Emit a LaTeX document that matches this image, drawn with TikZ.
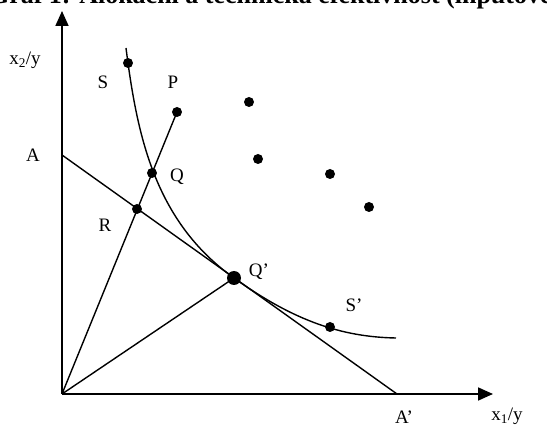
\documentclass[tikz,border=0pt]{standalone}
\usepackage{fontspec}
\setmainfont{Liberation Serif}
\usetikzlibrary{arrows.meta}

\tikzset{
    dot/.style={circle, fill, inner sep=0pt, minimum size=10pt},
    bigdot/.style={dot, minimum size=14pt},
    lbl/.style={font=\fontsize{19}{22}\selectfont},
    axis/.style={line width=1.8pt, -{Triangle[length=15pt,width=13pt]}},
}

\begin{document}
\begin{tikzpicture}[x=1pt, y=1pt, line width=1.4pt]
    \clip (-62,-32) rectangle (485,394);

    % title, cut off at the top
    \node [anchor=base west, font=\fontsize{26}{30}\selectfont\bfseries]
        (title) at (-77,390) {Graf 1: Alokační a technická efektivnost (inputově orientovaná)}
        ;

    % axes
    \coordinate (O) at (0,0);
    \coordinate (ytip) at (0,383);
    \coordinate (xtip) at (431,0);
    \draw [axis] (O) -- (ytip);
    \draw [axis] (O) -- (xtip);

    \node [lbl] (ylab) at (-37,334) {x\textsubscript{2}/y};
    \node [lbl] (xlab) at (445,-22) {x\textsubscript{1}/y};

    % budget line and rays
    \coordinate (A) at (0,239);
    \coordinate (A') at (335,0);
    \coordinate (top) at (64,346);
    \coordinate (end) at (334,56);

    \node [dot] (P) at (115,282) {};
    \node [dot] (Q) at (90,221) {};
    \node [dot] (R) at (75,185) {};
    \node [bigdot] (Q') at (172,116) {};
    \node [dot] (S) at (66,331) {};
    \node [dot] (S') at (268,67) {};

    \draw
        (A) -- (A')
        (O) -- (P.center)
        (O) -- (Q'.center)
        ;

    % isoquant
    \draw
        (top) .. controls (75,260) and (92,173) .. (Q'.center)
              .. controls (232,73) and (280,57) .. (end)
        ;

    % other firms
    \node [dot] (F1) at (187,292) {};
    \node [dot] (F2) at (196,235) {};
    \node [dot] (F3) at (268,220) {};
    \node [dot] (F4) at (307,187) {};

    % labels
    \node [lbl] at (41,312) {S};
    \node [lbl] at (111,312) {P};
    \node [lbl] at (-29,239) {A};
    \node [lbl] at (115,217) {Q};
    \node [lbl] at (43,169) {R};
    \node [lbl] at (197,122) {Q’};
    \node [lbl] at (292,89) {S’};
    \node [lbl] at (342,-23) {A’};
\end{tikzpicture}
\end{document}
